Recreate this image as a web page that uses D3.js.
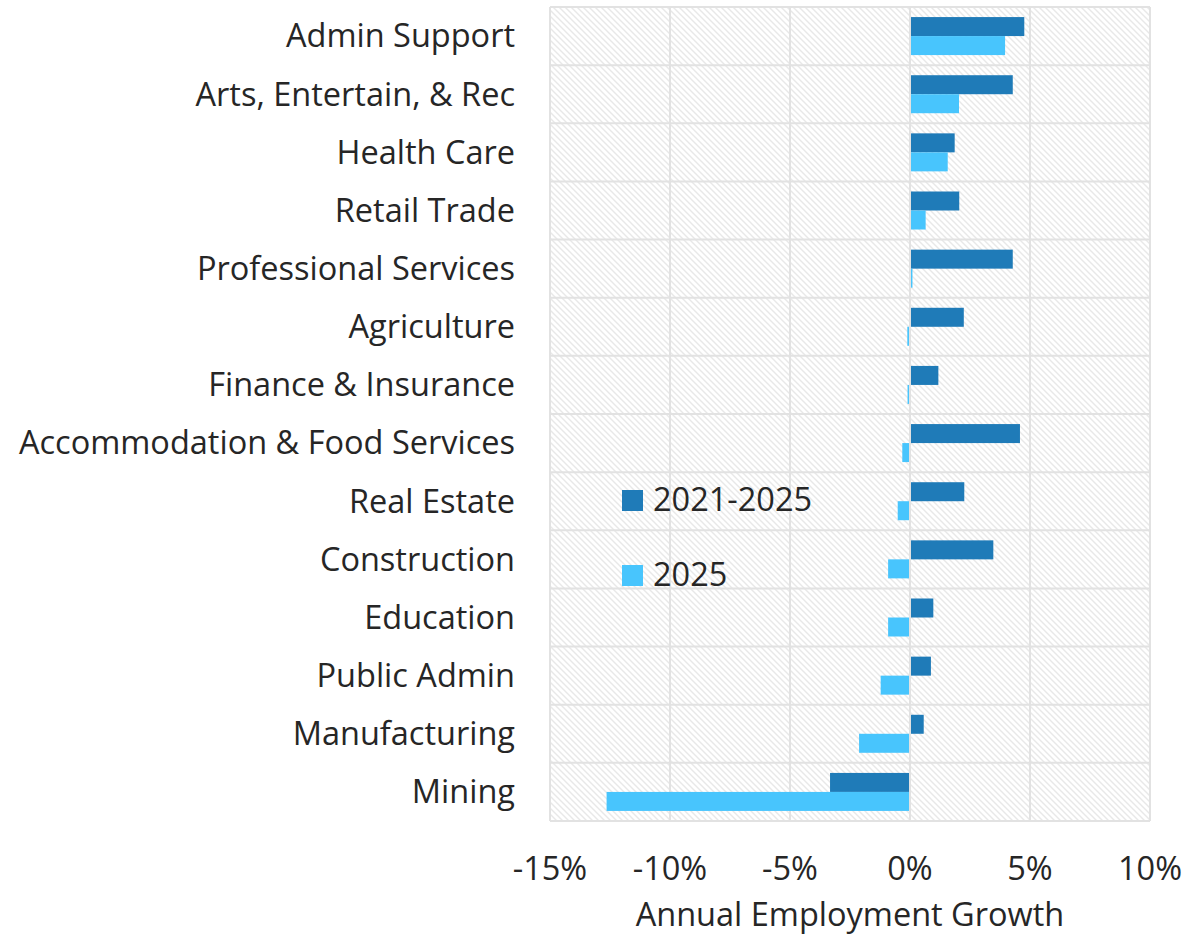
<!DOCTYPE html>
<html>
<head>
<meta charset="utf-8">
<script src="https://cdn.jsdelivr.net/npm/d3@7"></script>
<style>
  body { margin: 0; background: #fff; }
  text { font-family: "Open Sans", "Noto Sans", sans-serif; fill: #262626; }
</style>
</head>
<body>
<div id="chart"></div>
<script>
const categories = ['Admin Support', 'Arts, Entertain, & Rec', 'Health Care', 'Retail Trade',
  'Professional Services', 'Agriculture', 'Finance & Insurance', 'Accommodation & Food Services',
  'Real Estate', 'Construction', 'Education', 'Public Admin', 'Manufacturing', 'Mining']

const growth2021_2025 = [4.72, 4.24, 1.82, 2.01, 4.24, 2.2, 1.14, 4.54, 2.22, 3.43, 0.93, 0.83, 0.53, -3.29]
const growth2025 = [3.92, 2.0, 1.53, 0.61, 0.06, -0.07, -0.06, -0.28, -0.47, -0.87, -0.87, -1.18, -2.08, -12.6]

const seriesNames = ['2021-2025', '2025']
const seriesColors = ['#1F7BB8', '#48C5FD']
const xTicks = [-15, -10, -5, 0, 5, 10]

const width = 1200, height = 939
const margin = {left: 550, top: 7, right: 50, bottom: 118}
const fontSize = '32.5px'

const svg = d3.select('#chart').append('svg')
  .attr('width', width)
  .attr('height', height)

// hatch fill like the excel pattern
const pat = svg.append('defs').append('pattern')
  .attr('id', 'hatch')
  .attr('patternUnits', 'userSpaceOnUse')
  .attr('width', 6).attr('height', 6)
pat.append('rect').attr('width', 6).attr('height', 6).attr('fill', '#fff')
pat.append('path')
  .attr('d', 'M-1,-1 L7,7 M-1,5 L1,7 M5,-1 L7,1')
  .attr('stroke', '#e8e8e8')
  .attr('stroke-width', 1.4)

const xScale = d3.scaleLinear()
  .domain([-15, 10])
  .range([margin.left, width - margin.right])

const yScale = d3.scaleBand()
  .domain(categories)
  .range([margin.top, height - margin.bottom])

const ySeries = d3.scaleBand()
  .domain(seriesNames)
  .range([0, yScale.bandwidth()])
  .paddingOuter(0.53)

const data = categories.map((c, i) => ({cat: c, values: [growth2021_2025[i], growth2025[i]]}))

svg.append('rect')
  .attr('x', xScale(-15))
  .attr('y', margin.top)
  .attr('width', xScale(10) - xScale(-15))
  .attr('height', height - margin.bottom - margin.top)
  .attr('fill', 'url(#hatch)')

const grid = svg.append('g')
grid.selectAll('.vgrid')
  .data(xTicks)
  .join('line')
  .attr('x1', d => xScale(d)).attr('x2', d => xScale(d))
  .attr('y1', margin.top).attr('y2', height - margin.bottom)
  .attr('stroke', '#e2e2e2').attr('stroke-width', 2)

grid.selectAll('.hgrid')
  .data(categories.concat(['end']))
  .join('line')
  .attr('x1', xScale(-15)).attr('x2', xScale(10))
  .attr('y1', (d, i) => i < categories.length ? yScale(d) : yScale.range()[1])
  .attr('y2', (d, i) => i < categories.length ? yScale(d) : yScale.range()[1])
  .attr('stroke', '#e2e2e2').attr('stroke-width', 2)

const groups = svg.append('g').selectAll('g')
  .data(data)
  .join('g')
  .attr('transform', d => `translate(0,${yScale(d.cat)})`)

groups.selectAll('rect')
  .data(d => d.values.map((v, i) => ({v, s: seriesNames[i], i})))
  .join('rect')
  .attr('x', d => xScale(Math.min(0, d.v)) + (d.v >= 0 ? 1 : -1))
  .attr('width', d => Math.max(1, Math.abs(xScale(d.v) - xScale(0))))
  .attr('y', d => ySeries(d.s))
  .attr('height', ySeries.bandwidth())
  .attr('fill', d => seriesColors[d.i])

// category labels
svg.append('g').selectAll('text')
  .data(categories)
  .join('text')
  .attr('x', 515)
  .attr('y', d => yScale(d) + yScale.bandwidth() / 2)
  .attr('dy', '0.35em')
  .attr('text-anchor', 'end')
  .style('font-size', fontSize)
  .text(d => d)

// x axis labels
svg.append('g').selectAll('text')
  .data(xTicks)
  .join('text')
  .attr('x', d => xScale(d))
  .attr('y', 880)
  .attr('text-anchor', 'middle')
  .style('font-size', fontSize)
  .text(d => d + '%')

svg.append('text')
  .attr('x', (xScale(-15) + xScale(10)) / 2)
  .attr('y', 926)
  .attr('text-anchor', 'middle')
  .style('font-size', fontSize)
  .text('Annual Employment Growth')

// legend
const legend = svg.append('g')
seriesNames.forEach((s, i) => {
  const ly = 490 + i * 75
  legend.append('rect')
    .attr('x', 622).attr('y', ly)
    .attr('width', 21).attr('height', 21)
    .attr('fill', seriesColors[i])
  legend.append('text')
    .attr('x', 653).attr('y', ly + 21)
    .style('font-size', fontSize)
    .text(s)
})
</script>
</body>
</html>
